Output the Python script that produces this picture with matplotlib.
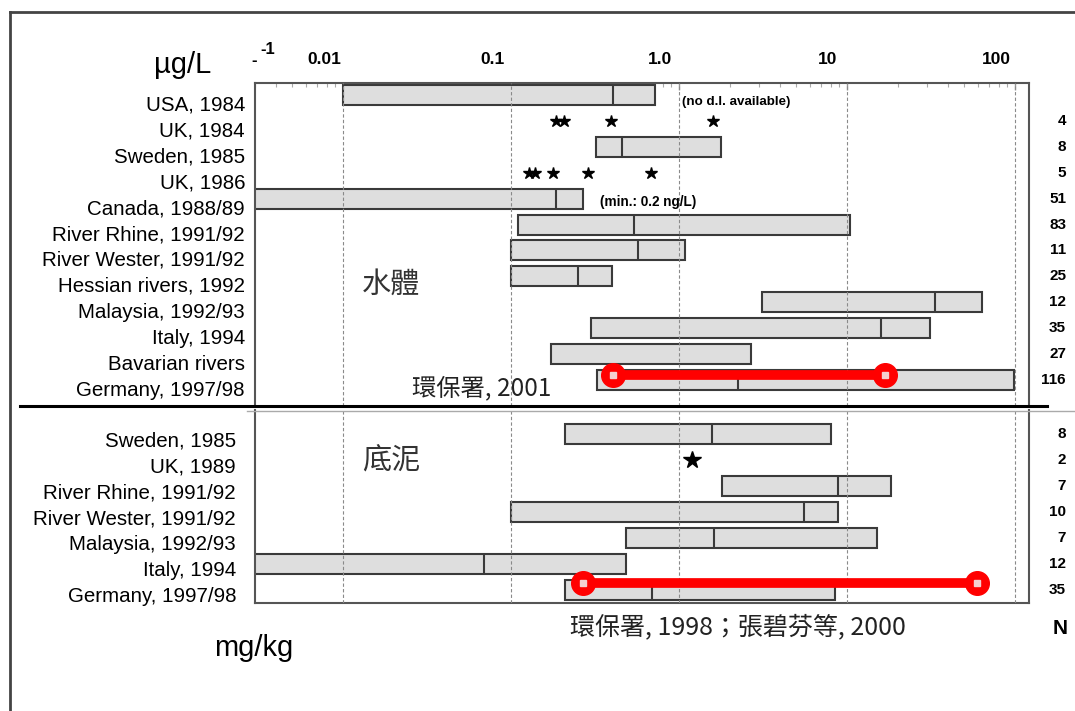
import numpy as np
import matplotlib

matplotlib.use('Agg')

import matplotlib.pyplot as plt
from matplotlib.lines import Line2D
from matplotlib.transforms import offset_copy, blended_transform_factory

plt.rcParams['font.family'] = ['Liberation Sans', 'DejaVu Sans']

# ---- water (µg/L) ----
water_labels = ['USA, 1984', 'UK, 1984', 'Sweden, 1985', 'UK, 1986', 'Canada, 1988/89',
                'River Rhine, 1991/92', 'River Wester, 1991/92', 'Hessian rivers, 1992',
                'Malaysia, 1992/93', 'Italy, 1994', 'Bavarian rivers', 'Germany, 1997/98']
water_low = [0.01, None, 0.32, None, 0.0002, 0.11, 0.1, 0.1, 3.1, 0.30, 0.173, 0.325]
water_med = [0.405, None, 0.458, None, 0.185, 0.54, 0.57, 0.25, 33.4, 15.9, None, 2.24]
water_high = [0.72, None, 1.78, None, 0.268, 10.4, 1.09, 0.40, 63.6, 31.2, 2.68, 98.6]
water_n = ['', '4', '8', '5', '51', '83', '11', '25', '12', '35', '27', '116']
uk1984_stars = [0.185, 0.207, 0.394, 1.59]
uk1986_stars = [0.128, 0.139, 0.178, 0.287, 0.681]
water_epd = [0.405, 16.8]          # 環保署, 2001

# ---- sediment (mg/kg) ----
sed_labels = ['Sweden, 1985', 'UK, 1989', 'River Rhine, 1991/92', 'River Wester, 1991/92',
              'Malaysia, 1992/93', 'Italy, 1994', 'Germany, 1997/98']
sed_low = [0.21, None, 1.80, 0.1, 0.484, 0.001, 0.21]
sed_med = [1.57, None, 8.84, 5.55, 1.62, 0.069, 0.69]
sed_high = [8.03, None, 18.3, 8.84, 15.1, 0.484, 8.48]
sed_n = ['8', '2', '7', '10', '7', '12', '35']
uk1989_stars = [1.19]
sed_epd = [0.268, 59.4]            # 環保署, 1998；張碧芬等, 2000

decades = [0.01, 0.1, 1.0, 10, 100]
decade_labels = ['0.01', '0.1', '1.0', '10', '100']

W, H = 1075, 711
XLIM = (10 ** -2.524, 10 ** 2.083)
fig = plt.figure(figsize=(W / 100, H / 100), dpi=100)


def px(x, y):
    return x / W, 1 - y / H


ax1 = fig.add_axes([255 / W, 1 - 406 / H, 774 / W, 323 / H])
ax2 = fig.add_axes([255 / W, 1 - 603 / H, 774 / W, 193 / H])

CJK = ['Noto Sans CJK TC', 'DejaVu Sans']
edge = '#3a3a3a'
fill = '#dedede'
bar_h = 0.77


def draw_panel(ax, labels, low, med, high, nvals, ylim, lab_pad, lab_drop):
    ax.set_xscale('log')
    ax.set_ylim(*ylim)
    rows = np.arange(len(labels))
    for r, lo, md, hi in zip(rows, low, med, high):
        if lo is None:
            continue
        ax.barh(r, hi - lo, left=lo, height=bar_h, color=fill, edgecolor=edge,
                linewidth=1.5, zorder=2)
        if md is not None:
            ax.vlines(md, r - bar_h / 2, r + bar_h / 2, color=edge, lw=1.5, zorder=3)
    for d in decades:
        ax.axvline(d, color='#8a8a8a', lw=0.8, ls=(0, (3, 2)), zorder=4)
    ax.set_yticks([])
    ax.tick_params(axis='x', which='both', bottom=False, labelbottom=False,
                   top=False, labeltop=False)
    ltr = offset_copy(blended_transform_factory(ax.transAxes, ax.transData), fig=fig,
                      x=-lab_pad, y=-lab_drop, units='dots')
    for r, lab in zip(rows, labels):
        ax.text(0, r, lab, transform=ltr, ha='right', va='center', fontsize=14.8)
    ntr = blended_transform_factory(fig.transFigure, ax.transData)
    for r, n in zip(rows, nvals):
        ax.text(1066 / W, r, n, transform=ntr, ha='right', va='center',
                fontsize=11, fontweight='bold')
    for s in ax.spines.values():
        s.set_color('#555555')
        s.set_linewidth(1.5)
    ax.set_xlim(*XLIM)
    return rows


rows1 = draw_panel(ax1, water_labels, water_low, water_med, water_high, water_n,
                   (12.0, -0.46), 10, 10)
rows2 = draw_panel(ax2, sed_labels, sed_low, sed_med, sed_high, sed_n,
                   (6.5, -0.92), 19, 7)
ax1.spines['bottom'].set_visible(False)
ax2.spines['top'].set_visible(False)

# top decade labels (shifted left as in the scan)
minor = [m * d for d in [0.001] + decades for m in range(2, 10)]
minor = [m for m in minor if XLIM[0] < m < XLIM[1]]
ax1.set_xticks(decades)
ax1.set_xticks(minor, minor=True)
ax1.xaxis.set_ticks_position('top')
ax1.tick_params(axis='x', which='major', top=True, direction='in', length=5,
                width=1, color='#999999')
ax1.tick_params(axis='x', which='minor', top=True, direction='in', length=3,
                width=0.8, color='#aaaaaa')
ax1.tick_params(axis='x', which='both', labeltop=False, labelbottom=False)
ax1.set_xlim(*XLIM)
ttr = offset_copy(ax1.get_xaxis_transform(), fig=fig, x=-19, y=23, units='dots')
for d, lab in zip(decades, decade_labels):
    ax1.text(d, 1, lab, transform=ttr, ha='center', va='center',
             fontsize=12.5, fontweight='bold')

# stars
ax1.plot(uk1984_stars, [rows1[1]] * len(uk1984_stars), '*', color='black', ms=9, zorder=5)
ax1.plot(uk1986_stars, [rows1[3]] * len(uk1986_stars), '*', color='black', ms=9, zorder=5)
ax2.plot(uk1989_stars, [rows2[1]] * len(uk1989_stars), '*', color='black', ms=13, zorder=5)

# red ranges
for ax, rng, yr in [(ax1, water_epd, rows1[-1] - 0.2), (ax2, sed_epd, rows2[-1] - 0.27)]:
    ax.plot(rng, [yr, yr], color='red', lw=7, solid_capstyle='butt', zorder=6,
            clip_on=False)
    ax.plot(rng, [yr, yr], 'o', color='red', ms=17, zorder=7, clip_on=False)
    ax.plot(rng, [yr, yr], 's', color='#f4d0d0', ms=4, zorder=8, clip_on=False)

# annotations
fig.text(*px(682, 102), '(no d.l. available)', fontsize=9.6, fontweight='bold',
         va='center')
fig.text(*px(600, 202), '(min.: 0.2 ng/L)', fontsize=9.8, fontweight='bold',
         va='center')
fig.text(*px(183, 65), 'µg/L', fontsize=21, ha='center', va='center')
fig.text(*px(254, 648), 'mg/kg', fontsize=21, ha='center', va='center')
fig.text(*px(1060, 629), 'N', fontsize=15, fontweight='bold', ha='center', va='center')
fig.text(*px(254, 61), '-', fontsize=12, fontweight='bold', ha='center', va='center')
fig.text(*px(268, 50), '-1', fontsize=12, fontweight='bold', ha='center', va='center')
fig.text(*px(391, 285), '水體', family=CJK, fontsize=21, ha='center', va='center',
         color='#333333')
fig.text(*px(391, 461), '底泥', family=CJK, fontsize=21, ha='center', va='center',
         color='#333333')
fig.text(*px(412, 388), '環保署, 2001', family=CJK, fontsize=17.5, va='center',
         color='#222222')
fig.text(*px(570, 627), '環保署, 1998；張碧芬等, 2000', family=CJK, fontsize=18,
         va='center', color='#222222')

# frame and separators
fig.add_artist(Line2D([10 / W, 10 / W], [0, 1 - 12 / H], color='#444444', lw=2))
fig.add_artist(Line2D([10 / W, 1], [1 - 12 / H, 1 - 12 / H], color='#444444', lw=2))
fig.add_artist(Line2D([20 / W, 1047 / W], [1 - 406 / H] * 2, color='black', lw=2.2))
fig.add_artist(Line2D([247 / W, 1], [1 - 411 / H] * 2, color='#aaaaaa', lw=1))

plt.savefig('out.png', dpi=100)
